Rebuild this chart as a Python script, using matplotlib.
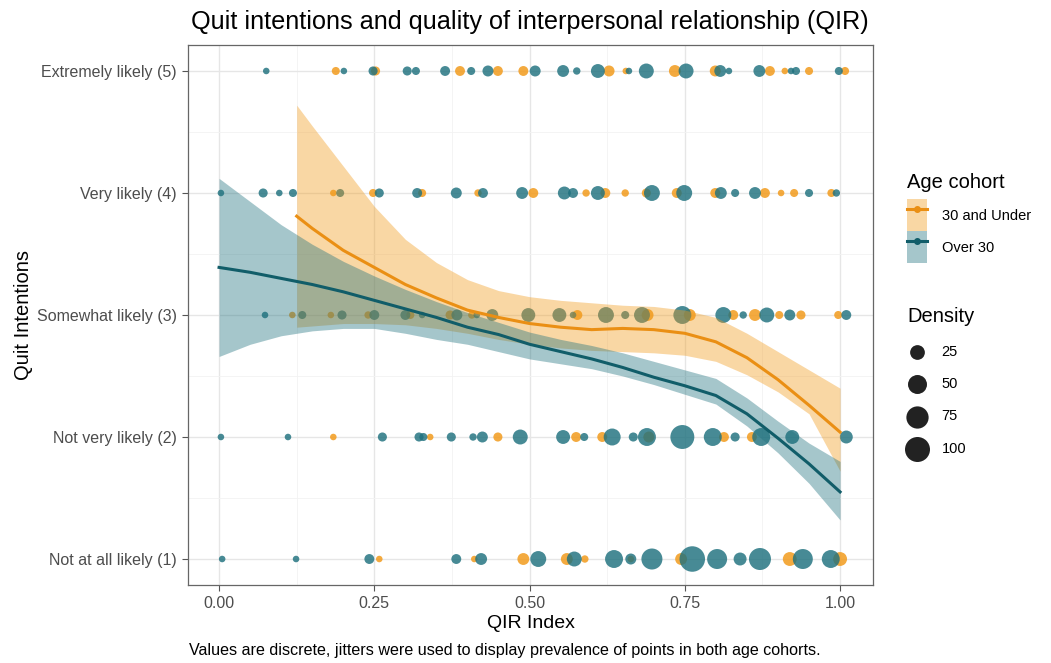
import numpy as np
import matplotlib.pyplot as plt
from matplotlib.lines import Line2D
from matplotlib.patches import Patch

plt.rcParams['font.family'] = ['Liberation Sans', 'DejaVu Sans']

# --- data -----------------------------------------------------------------
title = "Quit intentions and quality of interpersonal relationship (QIR)"
caption = "Values are discrete, jitters were used to display prevalence of points in both age cohorts."
level_labels = ["Not at all likely (1)", "Not very likely (2)", "Somewhat likely (3)",
                "Very likely (4)", "Extremely likely (5)"]
cohorts = ["30 and Under", "Over 30"]

# 30 and Under (jittered QIR, quit level, density)
young_x = [0.188, 0.252, 0.388, 0.449, 0.490, 0.628, 0.655, 0.734, 0.799, 0.887, 0.911, 0.950, 1.008,
           0.184, 0.248, 0.327, 0.417, 0.506, 0.591, 0.622, 0.654, 0.688, 0.737, 0.799, 0.879, 0.905, 0.926, 0.986,
           0.118, 0.180, 0.240, 0.308, 0.372, 0.407, 0.577, 0.690, 0.758, 0.828, 0.863, 0.902, 0.937, 0.997,
           0.184, 0.340, 0.449, 0.575, 0.617, 0.692, 0.813, 0.858,
           0.258, 0.411, 0.490, 0.560, 0.589, 0.663, 0.744, 0.919, 1.000]
young_y = [5]*13 + [4]*15 + [3]*14 + [2]*8 + [1]*9
young_d = [3, 5, 7, 7, 7, 10, 1, 13, 10, 7, 1, 3, 3,
           1, 3, 3, 2, 7, 2, 7, 2, 5, 7, 7, 7, 1, 3, 3,
           1, 1, 2, 3, 5, 2, 7, 13, 13, 7, 13, 3, 5, 3,
           1, 1, 5, 7, 7, 10, 7, 7,
           1, 1, 13, 13, 2, 1, 13, 21, 21]

# Over 30
old_x = [0.076, 0.201, 0.248, 0.303, 0.317, 0.364, 0.406, 0.433, 0.509, 0.554, 0.576, 0.610, 0.660,
         0.688, 0.752, 0.807, 0.821, 0.870, 0.921, 0.929, 0.998,
         0.003, 0.071, 0.097, 0.119, 0.195, 0.258, 0.319, 0.382, 0.425, 0.488, 0.556, 0.570, 0.610,
         0.697, 0.749, 0.808, 0.831, 0.863, 0.950, 0.994,
         0.074, 0.134, 0.198, 0.250, 0.300, 0.327, 0.383, 0.415, 0.440, 0.498, 0.548, 0.570, 0.623,
         0.654, 0.681, 0.746, 0.812, 0.844, 0.882, 0.919, 1.010,
         0.003, 0.111, 0.263, 0.322, 0.329, 0.374, 0.409, 0.424, 0.485, 0.554, 0.588, 0.633, 0.667,
         0.689, 0.746, 0.795, 0.831, 0.873, 0.923, 1.010,
         0.005, 0.124, 0.242, 0.382, 0.422, 0.514, 0.572, 0.636, 0.663, 0.697, 0.762, 0.802, 0.839,
         0.871, 0.940, 0.985]
old_y = [5]*21 + [4]*20 + [3]*21 + [2]*20 + [1]*16
old_d = [1, 1, 5, 5, 3, 7, 3, 10, 10, 13, 2, 21, 1, 26, 26, 13, 1, 13, 1, 3, 3,
         1, 5, 1, 3, 3, 5, 7, 10, 7, 13, 17, 7, 21, 31, 31, 13, 3, 13, 3, 2,
         1, 3, 5, 7, 7, 1, 10, 1, 13, 21, 21, 1, 31, 3, 31, 43, 31, 2, 26, 10, 7,
         1, 1, 5, 5, 3, 5, 2, 10, 26, 21, 3, 37, 5, 43, 90, 43, 5, 43, 21, 17,
         1, 1, 7, 7, 13, 31, 26, 43, 10, 65, 105, 57, 17, 73, 57, 43]

# loess fits
young_fx = [0.125, 0.15, 0.2, 0.25, 0.3, 0.35, 0.4, 0.45, 0.5, 0.55, 0.6, 0.65, 0.7, 0.75, 0.8, 0.85, 0.9, 0.95, 1.0]
young_fit = [3.81, 3.71, 3.53, 3.39, 3.25, 3.14, 3.04, 2.98, 2.93, 2.90, 2.88, 2.89, 2.88, 2.85, 2.78, 2.65, 2.47, 2.26, 2.04]
young_hi = [4.72, 4.55, 4.22, 3.89, 3.62, 3.43, 3.29, 3.20, 3.15, 3.12, 3.10, 3.08, 3.07, 3.04, 2.98, 2.85, 2.70, 2.55, 2.40]
young_lo = [2.90, 2.91, 2.93, 2.93, 2.92, 2.89, 2.85, 2.80, 2.76, 2.73, 2.71, 2.70, 2.69, 2.67, 2.62, 2.51, 2.37, 2.19, 1.72]

old_fx = [0.0, 0.05, 0.1, 0.15, 0.2, 0.25, 0.3, 0.35, 0.4, 0.45, 0.5, 0.55, 0.6, 0.65, 0.7, 0.75, 0.8, 0.85, 0.9, 0.95, 1.0]
old_fit = [3.39, 3.35, 3.30, 3.25, 3.19, 3.12, 3.05, 2.98, 2.90, 2.84, 2.76, 2.70, 2.64, 2.57, 2.49, 2.42, 2.34, 2.19, 1.99, 1.78, 1.55]
old_hi = [4.12, 3.93, 3.74, 3.58, 3.44, 3.32, 3.21, 3.11, 3.02, 2.94, 2.86, 2.80, 2.75, 2.69, 2.62, 2.55, 2.48, 2.32, 2.13, 1.95, 1.80]
old_lo = [2.66, 2.76, 2.83, 2.87, 2.89, 2.89, 2.85, 2.80, 2.76, 2.70, 2.64, 2.60, 2.56, 2.50, 2.43, 2.35, 2.27, 2.09, 1.87, 1.62, 1.32]

size_breaks = [25, 50, 75, 100]

# --- colours ----------------------------------------------------------------
orange = "#F29B1D"
teal = "#1F717E"
orange_line = "#EA8F14"
teal_line = "#115D69"


def dens_to_s(d):
    # marker diameter in px grows with sqrt(density), converted to pt^2 (dpi 100)
    px = 4.5 + 2.05 * np.sqrt(np.asarray(d, dtype=float))
    return (px * 0.72) ** 2


fig = plt.figure(figsize=(10.51, 6.63), dpi=100)
ax = fig.add_axes([188/1051, 1-585/663, (873-188)/1051, (585-45)/663])

ax.scatter(young_x, young_y, s=dens_to_s(young_d), color=orange, alpha=0.85, linewidths=0, zorder=2)
ax.scatter(old_x, old_y, s=dens_to_s(old_d), color=teal, alpha=0.82, linewidths=0, zorder=2)

ax.fill_between(young_fx, young_lo, young_hi, color=orange, alpha=0.4, linewidth=0, zorder=3)
ax.fill_between(old_fx, old_lo, old_hi, color=teal, alpha=0.4, linewidth=0, zorder=3)
ax.plot(young_fx, young_fit, color=orange_line, lw=2.2, zorder=4)
ax.plot(old_fx, old_fit, color=teal_line, lw=2.2, zorder=4)

ax.set_xlim(-0.05, 1.053)
ax.set_ylim(0.787, 5.213)
ax.set_xticks([0, 0.25, 0.5, 0.75, 1.0])
ax.set_xticklabels(["0.00", "0.25", "0.50", "0.75", "1.00"])
ax.set_xticks([0.125, 0.375, 0.625, 0.875], minor=True)
ax.set_yticks([1, 2, 3, 4, 5])
ax.set_yticklabels(level_labels)
ax.set_yticks([1.5, 2.5, 3.5, 4.5], minor=True)
ax.grid(which='major', color="#E6E6E6", lw=1.0, zorder=0)
ax.grid(which='minor', color="#F2F2F2", lw=0.6, zorder=0)
ax.set_axisbelow(True)
ax.tick_params(which='major', length=4, color="#555555", labelsize=11.5, labelcolor="#4D4D4D", pad=4)
ax.tick_params(which='minor', length=0)
for sp in ax.spines.values():
    sp.set_color("#666666")
    sp.set_linewidth(0.9)

ax.set_xlabel("QIR Index", fontsize=14, labelpad=3)
ax.set_ylabel("Quit Intentions", fontsize=14.5, labelpad=3)
fig.text(530/1051, 1-22/663, title, ha='center', va='center', fontsize=18.2)
fig.text(505/1051, 1-651/663, caption, ha='center', va='center', fontsize=11.6)

# legends
coh_handles = [
    (Patch(facecolor=orange, alpha=0.4, linewidth=0),
     Line2D([], [], color=orange_line, lw=2.2, marker='o', markersize=4)),
    (Patch(facecolor=teal, alpha=0.4, linewidth=0),
     Line2D([], [], color=teal_line, lw=2.2, marker='o', markersize=4)),
]
leg1 = fig.legend(coh_handles, cohorts, title="Age cohort", loc='upper left',
                  bbox_to_anchor=(900/1051, 1-166/663), frameon=False, fontsize=10.5,
                  title_fontsize=14.5, handlelength=1.35, handleheight=3.0, labelspacing=0,
                  handletextpad=1.0, borderpad=0, alignment='left')
leg1._legend_box.sep = 5

size_handles = [plt.scatter([], [], s=dens_to_s(b), color="#222222", linewidths=0) for b in size_breaks]
leg2 = fig.legend(size_handles, [str(b) for b in size_breaks], title="Density", loc='upper left',
                  bbox_to_anchor=(900/1051, 1-300/663), frameon=False, fontsize=10.5,
                  title_fontsize=14.5, handlelength=1.35, labelspacing=1.26, scatterpoints=1,
                  handletextpad=1.0, borderpad=0, alignment='left')

fig.savefig("out.png", dpi=100)
